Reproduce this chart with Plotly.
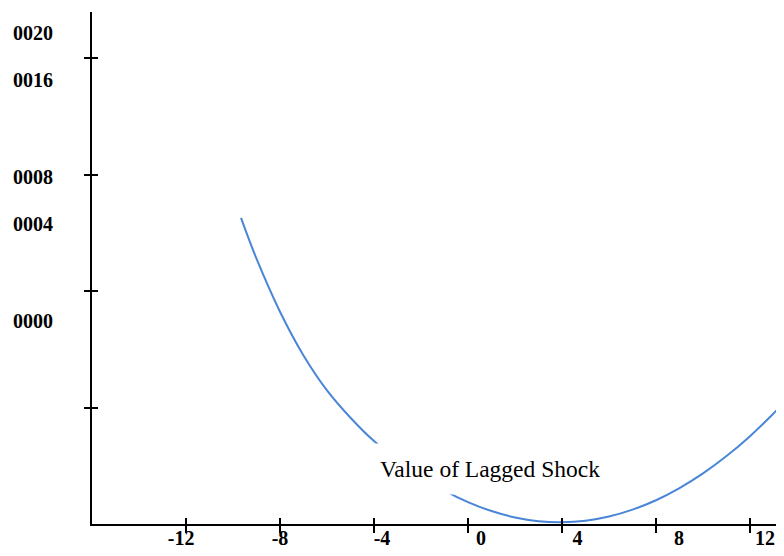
import plotly.graph_objects as go

# Data (x: lagged shock, y: conditional variance in tick units)
shock = [-9.66, -9, -8, -7, -6, -5, -4, -3, -2, -1, 0, 1, 2, 3, 4,
         5, 6, 7, 8, 9, 10, 11, 12, 13, 13.45]
variance = [2.627, 2.277, 1.822, 1.447, 1.147, 0.912, 0.712, 0.554, 0.41, 0.287, 0.188,
            0.111, 0.056, 0.024, 0.015, 0.028, 0.064, 0.123, 0.204, 0.308, 0.434,
            0.583, 0.754, 0.949, 1.043]

x_tick_vals = [-12, -8, -4, 0, 4, 8, 12]
x_label_vals = [-12.21, -8.0, -3.66, 0.55, 4.66, 8.98, 12.64]
x_label_text = ["-12", "-8", "-4", "0", "4", "8", "12"]

y_tick_vals = [1, 2, 3, 4]
y_label_vals = [4.215, 3.811, 2.979, 2.575, 1.742]
y_label_text = ["0020", "0016", "0008", "0004", "0000"]

x_range = [-16, 13.106]
y_range = [0, 4.395]

FONT = "Liberation Serif, Times New Roman, serif"
LINE_COLOR = "#4a86d8"

fig = go.Figure()
fig.add_trace(go.Scatter(
    x=shock, y=variance, mode="lines",
    line=dict(color=LINE_COLOR, width=2, shape="spline", smoothing=1.0),
    hoverinfo="skip", showlegend=False,
))
# invisible companions so the overlaid tick / label axes get drawn
for xa, ya in (("x2", "y2"), ("x3", "y3")):
    fig.add_trace(go.Scatter(
        x=shock, y=variance, mode="lines", xaxis=xa, yaxis=ya,
        line=dict(width=0), opacity=0, hoverinfo="skip", showlegend=False,
    ))

common = dict(showgrid=False, zeroline=False, fixedrange=True)

fig.update_layout(
    width=768, height=540,
    margin=dict(l=84, r=0, t=4, b=24),
    paper_bgcolor="white", plot_bgcolor="white",
    showlegend=False,
    font=dict(family=FONT, color="black"),
    xaxis=dict(range=x_range, tickmode="array", tickvals=x_tick_vals,
               ticks="outside", ticklen=7, tickwidth=2, tickcolor="black",
               showticklabels=False, showline=True, linewidth=2, linecolor="black",
               **common),
    xaxis2=dict(range=x_range, overlaying="x", anchor="y2", side="bottom",
                tickmode="array", tickvals=x_tick_vals,
                ticks="inside", ticklen=6, tickwidth=2, tickcolor="black",
                showticklabels=False, showline=False, **common),
    xaxis3=dict(range=x_range, overlaying="x", anchor="y3", side="bottom",
                tickmode="array", tickvals=x_label_vals, ticktext=x_label_text,
                ticks="", showline=False, ticklabelstandoff=0,
                tickfont=dict(family=FONT, size=20, color="black", weight="bold"),
                **common),
    yaxis=dict(range=y_range, tickmode="array", tickvals=y_tick_vals,
               ticks="outside", ticklen=6, tickwidth=2, tickcolor="black",
               showticklabels=False, showline=True, linewidth=2, linecolor="black",
               **common),
    yaxis2=dict(range=y_range, overlaying="y", anchor="x2", side="left",
                tickmode="array", tickvals=y_tick_vals,
                ticks="inside", ticklen=6, tickwidth=2, tickcolor="black",
                showticklabels=False, showline=False, **common),
    yaxis3=dict(range=y_range, overlaying="y", anchor="x3", side="left",
                tickmode="array", tickvals=y_label_vals, ticktext=y_label_text,
                ticks="", showline=False, ticklabelstandoff=38,
                tickfont=dict(family=FONT, size=20, color="black", weight="bold"),
                **common),
    annotations=[dict(
        x=0.936, y=0.472, xref="x", yref="y",
        text="Value of Lagged Shock", showarrow=False,
        font=dict(family=FONT, size=23.5, color="black"),
        bgcolor="white", borderpad=12,
    )],
)

fig.write_html("out.html")
